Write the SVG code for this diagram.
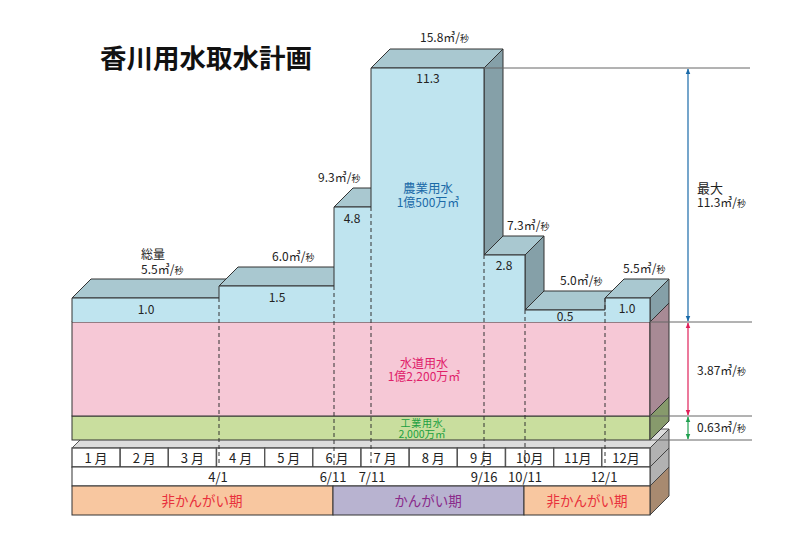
<svg xmlns="http://www.w3.org/2000/svg" width="791" height="547" viewBox="0 0 791 547">
<defs>
<style>
text{font-family:"Noto Sans CJK JP","Noto Sans",sans-serif;fill:#222}
.t{font-size:12px}
.s{font-size:9px}
.c{text-anchor:middle}
.front{fill:#bfe4ef}
.top{fill:#a9c8d0;stroke:#333;stroke-width:1}
.side{fill:#85a0a8;stroke:#333;stroke-width:1}
.ol{fill:none;stroke:#333;stroke-width:1}
.dash{stroke:#333;stroke-width:1;stroke-dasharray:4 3;fill:none}
.ref{stroke:#666;stroke-width:1;fill:none}
.cell{fill:#fff;stroke:#555;stroke-width:1.4}
.m{font-size:13px;text-anchor:middle}
</style>
<marker id="mb" viewBox="0 0 10 10" refX="9" refY="5" markerWidth="5" markerHeight="5" orient="auto-start-reverse"><path d="M0,1 L10,5 L0,9z" fill="#1a6aa8"/></marker>
<marker id="mp" viewBox="0 0 10 10" refX="9" refY="5" markerWidth="5" markerHeight="5" orient="auto-start-reverse"><path d="M0,1 L10,5 L0,9z" fill="#e0205a"/></marker>
<marker id="mg" viewBox="0 0 10 10" refX="9" refY="5" markerWidth="5" markerHeight="5" orient="auto-start-reverse"><path d="M0,1 L10,5 L0,9z" fill="#20a050"/></marker>
</defs>
<rect width="791" height="547" fill="#fff"/>
<text x="100" y="68" style="font-size:26.5px;font-weight:700;fill:#111">香川用水取水計画</text>

<g id="table">
<polygon points="72,448 91,429 669,429 650,448" fill="#dcdcdc" stroke="#555"/>
<polygon points="650,448 669,429 669,448 650,467" fill="#b2b2b2" stroke="#444"/>
<polygon points="650,467 669,448 669,467 650,486" fill="#b2b2b2" stroke="#444"/>
<polygon points="650,486 669,467 669,496 650,515" fill="#a88a70" stroke="#444"/>
<g id="months">
<rect class="cell" x="72" y="448" width="48.2" height="19"/>
<rect class="cell" x="120.2" y="448" width="48.2" height="19"/>
<rect class="cell" x="168.3" y="448" width="48.2" height="19"/>
<rect class="cell" x="216.5" y="448" width="48.2" height="19"/>
<rect class="cell" x="264.7" y="448" width="48.2" height="19"/>
<rect class="cell" x="312.8" y="448" width="48.2" height="19"/>
<rect class="cell" x="361" y="448" width="48.2" height="19"/>
<rect class="cell" x="409.2" y="448" width="48.2" height="19"/>
<rect class="cell" x="457.3" y="448" width="48.2" height="19"/>
<rect class="cell" x="505.5" y="448" width="48.2" height="19"/>
<rect class="cell" x="553.7" y="448" width="48.2" height="19"/>
<rect class="cell" x="601.8" y="448" width="48.2" height="19"/>
<text class="m" x="96" y="463">1 月</text>
<text class="m" x="144.2" y="463">2 月</text>
<text class="m" x="192.4" y="463">3 月</text>
<text class="m" x="240.6" y="463">4 月</text>
<text class="m" x="288.8" y="463">5 月</text>
<text class="m" x="337" y="463">6 月</text>
<text class="m" x="385.1" y="463">7 月</text>
<text class="m" x="433.3" y="463">8 月</text>
<text class="m" x="481.5" y="463">9 月</text>
<text class="m" x="529.7" y="463">10月</text>
<text class="m" x="577.8" y="463">11月</text>
<text class="m" x="626" y="463">12月</text>
</g>
<rect x="72" y="467" width="578" height="19" fill="#fff" stroke="#333"/>
<text class="m" x="218" y="482">4/1</text>
<text class="m" x="333" y="482">6/11</text>
<text class="m" x="372" y="482">7/11</text>
<text class="m" x="484" y="482">9/16</text>
<text class="m" x="525" y="482">10/11</text>
<text class="m" x="604" y="482">12/1</text>
<rect x="72" y="486" width="261" height="29" fill="#f8c7a0" stroke="#333"/>
<rect x="333" y="486" width="191" height="29" fill="#b8b3d0" stroke="#333"/>
<rect x="524" y="486" width="126" height="29" fill="#f8c7a0" stroke="#333"/>
<text x="202" y="506" style="font-size:13.5px;text-anchor:middle;fill:#e8303c">非かんがい期</text>
<text x="428" y="506" style="font-size:13.5px;text-anchor:middle;fill:#8a2a8a">かんがい期</text>
<text x="587" y="506" style="font-size:13.5px;text-anchor:middle;fill:#e8303c">非かんがい期</text>
</g>

<g id="industrial">
<rect x="72" y="416" width="578" height="24" fill="#c9de9e" stroke="#333"/>
<polygon points="650,416 669,397 669,421 650,440" fill="#879a6c" stroke="#333"/>
</g>

<g id="waterworks">
<rect x="72" y="322" width="578" height="94" fill="#f6c8d6" stroke="#333"/>
<polygon points="650,322 669,303 669,397 650,416" fill="#a88a95" stroke="#333"/>
</g>

<g id="agri">
<polygon class="top" points="72,298 91,279 238,279 219,298"/>
<rect class="front" x="72" y="298" width="147" height="24"/>
<polygon class="top" points="219,286 238,267 353,267 334,286"/>
<rect class="front" x="219" y="286" width="115" height="36"/>
<polygon class="top" points="334,207 353,188 390,188 371,207"/>
<rect class="front" x="334" y="207" width="37" height="115"/>
<polygon class="top" points="371,68 390,49 503,49 484,68"/>
<polygon class="side" points="484,68 503,49 503,303 484,322"/>
<rect class="front" x="371" y="68" width="113" height="254"/>
<polygon class="top" points="484,255 503,236 544,236 525,255"/>
<polygon class="side" points="525,255 544,236 544,303 525,322"/>
<rect class="front" x="484" y="255" width="41" height="67"/>
<polygon class="top" points="525,310 544,291 624,291 605,310"/>
<rect class="front" x="525" y="310" width="80" height="12"/>
<polygon class="top" points="605,298 624,279 669,279 650,298"/>
<polygon class="side" points="650,298 669,279 669,303 650,322"/>
<rect class="front" x="605" y="298" width="45" height="24"/>
<path class="ol" d="M72,322 V298 H219 V286 H334 V207 H371 V68 H484 V255 H525 V310 H605 V298 H650 V322"/>
</g>

<g id="connectors">
<path class="dash" d="M219,298 V467 M334,286 V467 M371,207 V467 M484,255 V467 M525,310 V467 M605,298 V467"/>
<path class="ref" d="M484,68 H750 M650,322 H752 M650,416 H752 M650,440 H752"/>
<line x1="688" y1="69" x2="688" y2="321" stroke="#1a6aa8" stroke-width="1.2" marker-start="url(#mb)" marker-end="url(#mb)"/>
<line x1="688" y1="323" x2="688" y2="415" stroke="#e0205a" stroke-width="1.2" marker-start="url(#mp)" marker-end="url(#mp)"/>
<line x1="688" y1="417" x2="688" y2="439" stroke="#20a050" stroke-width="1.2" marker-start="url(#mg)" marker-end="url(#mg)"/>
</g>

<g id="labels">
<text class="t" x="141" y="259">総量<tspan x="141" dy="15">5.5㎥/</tspan><tspan class="s">秒</tspan></text>
<text class="t" x="272" y="261">6.0㎥/<tspan class="s">秒</tspan></text>
<text class="t" x="318" y="182">9.3㎥/<tspan class="s">秒</tspan></text>
<text class="t" x="420" y="42">15.8㎥/<tspan class="s">秒</tspan></text>
<text class="t" x="507" y="230">7.3㎥/<tspan class="s">秒</tspan></text>
<text class="t" x="560" y="285">5.0㎥/<tspan class="s">秒</tspan></text>
<text class="t" x="623" y="273">5.5㎥/<tspan class="s">秒</tspan></text>
<text class="t c" x="146" y="314">1.0</text>
<text class="t c" x="277" y="302">1.5</text>
<text class="t c" x="352" y="223">4.8</text>
<text class="t c" x="428" y="83">11.3</text>
<text class="t c" x="504" y="270">2.8</text>
<text class="t c" x="565" y="321">0.5</text>
<text class="t c" x="627" y="313">1.0</text>
<text x="428" y="193" style="font-size:12.5px;text-anchor:middle;fill:#1a6aa8">農業用水<tspan x="428" dy="14" style="font-size:12px">1億500万㎥</tspan></text>
<text x="424" y="368" style="font-size:12px;text-anchor:middle;fill:#e0206a">水道用水<tspan x="424" dy="13">1億2,200万㎥</tspan></text>
<text x="422" y="427" style="font-size:10px;text-anchor:middle;fill:#20a040"><tspan style="letter-spacing:0.8px">工業用水</tspan><tspan x="422" dy="10.5" style="font-size:10.5px">2,000万㎥</tspan></text>
<text x="697" y="193" style="font-size:13px">最大<tspan x="697" dy="14" style="font-size:12px">11.3㎥/</tspan><tspan class="s">秒</tspan></text>
<text class="t" x="697" y="375">3.87㎥/<tspan class="s">秒</tspan></text>
<text class="t" x="697" y="432">0.63㎥/<tspan class="s">秒</tspan></text>
</g>
</svg>
